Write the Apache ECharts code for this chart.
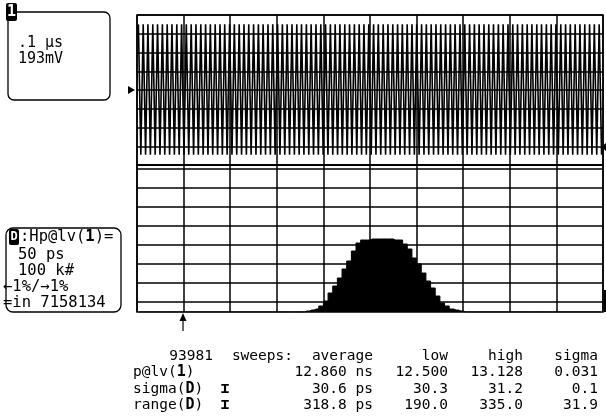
<!DOCTYPE html>
<html><head><meta charset="utf-8">
<script src="https://cdn.jsdelivr.net/npm/echarts@6/dist/echarts.min.js"></script>
<style>html,body{margin:0;padding:0;background:#fff}#c{width:606px;height:420px}</style>
</head><body><div id="c"></div>
<script>
// ---- waveform (top panel): times in ns, 100 ns / div ----
const peakTimesNs = [3.0,13.3,23.4,33.9,44.1,54.5,64.8,75.0,85.4,95.7,105.8,116.3,126.5,136.9,147.2,157.4,167.8,178.1,188.2,198.7,
  208.9,219.3,229.6,239.8,250.2,260.5,270.6,281.1,291.3,301.7,312.0,322.2,332.6,342.9,353.0,363.5,373.7,384.1,394.4,404.6,
  415.0,425.3,435.4,445.9,456.1,466.5,476.8,487.0,497.4,507.7,517.8,528.3,538.5,548.9,559.2,569.4,579.8,590.1,600.2,610.7,
  620.9,631.3,641.6,651.8,662.2,672.5,682.6,693.1,703.3,713.7,724.0,734.2,744.6,754.9,765.0,775.5,785.7,796.1,806.4,816.6,
  827.0,837.3,847.4,857.9,868.1,878.5,888.8,899.0,909.4,919.7,929.8,940.3,950.5,960.9,971.2,981.4,991.8];
const troughTimesNs = [8.2,18.4,28.7,39.0,49.3,59.6,69.9,80.2,90.5,100.8,111.0,121.4,131.6,142.0,152.3,162.5,172.9,183.2,193.4,203.8,
  214.0,224.4,234.7,244.9,255.3,265.6,275.8,286.2,296.4,306.8,317.1,327.3,337.7,348.0,358.2,368.6,378.8,389.2,399.5,409.7,
  420.1,430.4,440.6,451.0,461.2,471.6,481.9,492.1,502.5,512.8,523.0,533.4,543.6,554.0,564.3,574.5,584.9,595.2,605.4,615.8,
  626.0,636.4,646.7,656.9,667.3,677.6,687.8,698.2,708.4,718.8,729.1,739.3,749.7,760.0,770.2,780.6,790.8,801.2,811.5,821.7,
  832.1,842.4,852.6,863.0,873.2,883.6,893.9,904.1,914.5,924.8,935.0,945.4,955.6,966.0,976.3,986.5,996.9];
const waveHigh = 3.5;   // divisions above the ground marker
const waveLow = -3.45;

// ---- histogram (bottom panel): 10 bins per 50 ps division ----
const histBinCount = 100;
const histStartBin = 36;
const histCounts = [1,2,3,6,11,19,26,34,43,51,61,69,72,72,73,73,73,73,73,72,72,68,63,54,48,39,31,24,16,9,6,3,2,1];

// ---- text ----
const box1Lines = ['.1 µs', '193mV'];
const box2Lines = [':Hp@lv(', ')=', '50 ps', '100 k#', '←1%/→1%', '=in 7158134'];
const statHeader = ['93981', 'sweeps:', 'average', 'low', 'high', 'sigma'];
const statNames = ['p@lv(', 'sigma(', 'range('];
const statAvg = ['12.860 ns', '30.6 ps', '318.8 ps'];
const statLow = ['12.500', '30.3', '190.0'];
const statHigh = ['13.128', '31.2', '335.0'];
const statSigma = ['0.031', '0.1', '31.9'];

const FONT = '"DejaVu Sans Mono", "Liberation Mono", monospace';
const wave = [];
for (let k = 0; k < peakTimesNs.length; k++) {
  wave.push([peakTimesNs[k], waveHigh]);
  wave.push([troughTimesNs[k], waveLow]);
}
const histData = [];
const histCats = [];
for (let i = 0; i < histBinCount; i++) {
  histCats.push(i);
  const j = i - histStartBin;
  histData.push(j >= 0 && j < histCounts.length ? histCounts[j] : 0);
}

const chart = echarts.init(document.getElementById('c'), null, {renderer: 'canvas'});
const black = '#000';
const hiddenAxis = {axisLine:{show:false}, axisTick:{show:false}, axisLabel:{show:false}};
function txt(x, y, text, opts) {
  return {type:'text', x:x, y:y, style:Object.assign({text:text, fill:black, font:'15px ' + FONT, textVerticalAlign:'middle'}, opts||{})};
}
const tableFont = '14.5px ' + FONT;
const boxFont = '15.5px ' + FONT;
const rowY = [356, 372, 389, 405];
const graphics = [
  // box 1
  {type:'rect', shape:{x:8, y:12, width:102, height:88, r:6}, style:{fill:'none', stroke:black, lineWidth:1.3}},
  {type:'rect', shape:{x:6, y:3, width:11, height:18, r:2}, style:{fill:black}},
  txt(11.5, 12.5, '1', {fill:'#fff', font:'bold 15px ' + FONT, textAlign:'center'}),
  txt(18, 43, box1Lines[0], {font:'15px ' + FONT}),
  txt(18, 59, box1Lines[1], {font:'15px ' + FONT}),
  // ground marker
  {type:'polygon', shape:{points:[[128,86],[135,90],[128,94]]}, style:{fill:black}},
  // box 2
  {type:'rect', shape:{x:6, y:228, width:115, height:84, r:7}, style:{fill:'none', stroke:black, lineWidth:1.3}},
  {type:'rect', shape:{x:9, y:229, width:10, height:16, r:2}, style:{fill:black}},
  txt(14, 237, 'D', {fill:'#fff', font:'bold 12px ' + FONT, textAlign:'center'}),
  {type:'text', x:20, y:237, style:{rich:{b:{font:'bold 15.5px ' + FONT, fill:black}}, text:box2Lines[0] + '{b|1}' + box2Lines[1], font:boxFont, fill:black, textVerticalAlign:'middle'}},
  txt(18, 255, box2Lines[2], {font:boxFont}),
  txt(18, 271, box2Lines[3], {font:boxFont}),
  txt(3, 287, box2Lines[4], {font:boxFont}),
  txt(3, 303, box2Lines[5], {font:boxFont}),
  // trigger arrow below histogram
  {type:'line', shape:{x1:183, y1:318, x2:183, y2:331}, style:{stroke:black, lineWidth:1.2}},
  {type:'polygon', shape:{points:[[179.5,321],[183,313],[186.5,321]]}, style:{fill:black}},
  // right side small markers
  {type:'polygon', shape:{points:[[606,143],[601,147],[606,151]]}, style:{fill:black}},
  {type:'line', shape:{x1:605, y1:290, x2:605, y2:312}, style:{stroke:black, lineWidth:2}}
];
// stats table
const headerRight = [213, 293, 373, 448, 523, 598];
statHeader.forEach((s, i) => graphics.push(txt(headerRight[i], rowY[0], s, {font:tableFont, textAlign:'right'})));
const marks = ['1', 'D', 'D'];
statNames.forEach((s, r) => {
  graphics.push({type:'text', x:133, y:rowY[r+1], style:{rich:{b:{font:'bold 15px ' + FONT, fill:black}}, text:s + '{b|' + marks[r] + '})', font:tableFont, fill:black, textVerticalAlign:'middle'}});
  if (r > 0) graphics.push(txt(225, rowY[r+1], 'ɪ', {font:'bold 15px ' + FONT, textAlign:'center'}));
  graphics.push(txt(373, rowY[r+1], statAvg[r], {font:tableFont, textAlign:'right'}));
  graphics.push(txt(448, rowY[r+1], statLow[r], {font:tableFont, textAlign:'right'}));
  graphics.push(txt(523, rowY[r+1], statHigh[r], {font:tableFont, textAlign:'right'}));
  graphics.push(txt(598, rowY[r+1], statSigma[r], {font:tableFont, textAlign:'right'}));
});

const split = {show:true, lineStyle:{color:black, width:1.5}};
chart.setOption({
  animation:false,
  backgroundColor:'#fff',
  grid:[
    {left:137, top:15, width:466, height:150, show:true, borderColor:black, borderWidth:1.5, backgroundColor:'transparent'},
    {left:137, top:169, width:466, height:133, show:false},
    {left:137, top:165, width:466, height:147, show:true, borderColor:black, borderWidth:1.5, backgroundColor:'transparent'}
  ],
  xAxis:[
    Object.assign({type:'value', gridIndex:0, min:0, max:1000, interval:100, splitLine:split}, hiddenAxis),
    Object.assign({type:'value', gridIndex:1, min:0, max:10, interval:1, splitLine:{show:false}}, hiddenAxis),
    Object.assign({type:'category', gridIndex:2, data:histCats, boundaryGap:true, splitLine:{show:false}}, hiddenAxis),
    Object.assign({type:'value', gridIndex:2, min:0, max:10, interval:1, position:'top', splitLine:split}, hiddenAxis)
  ],
  yAxis:[
    Object.assign({type:'value', gridIndex:0, min:-4, max:4, interval:1, splitLine:split}, hiddenAxis),
    Object.assign({type:'value', gridIndex:1, min:0, max:7, interval:1, splitLine:split}, hiddenAxis),
    Object.assign({type:'value', gridIndex:2, min:0, max:147, splitLine:{show:false}}, hiddenAxis)
  ],
  series:[
    {type:'line', xAxisIndex:1, yAxisIndex:1, data:[], silent:true},
    {type:'line', xAxisIndex:3, yAxisIndex:2, data:[], silent:true},
    {type:'line', xAxisIndex:2, yAxisIndex:2, data:histData, step:'middle', showSymbol:false, symbol:'none',
     lineStyle:{color:black, width:1}, areaStyle:{color:black, opacity:1}, silent:true},
    {type:'line', xAxisIndex:0, yAxisIndex:0, data:wave, showSymbol:false, symbol:'none', lineStyle:{color:black, width:1.6}, silent:true}
  ],
  graphic:graphics
});
</script></body></html>
